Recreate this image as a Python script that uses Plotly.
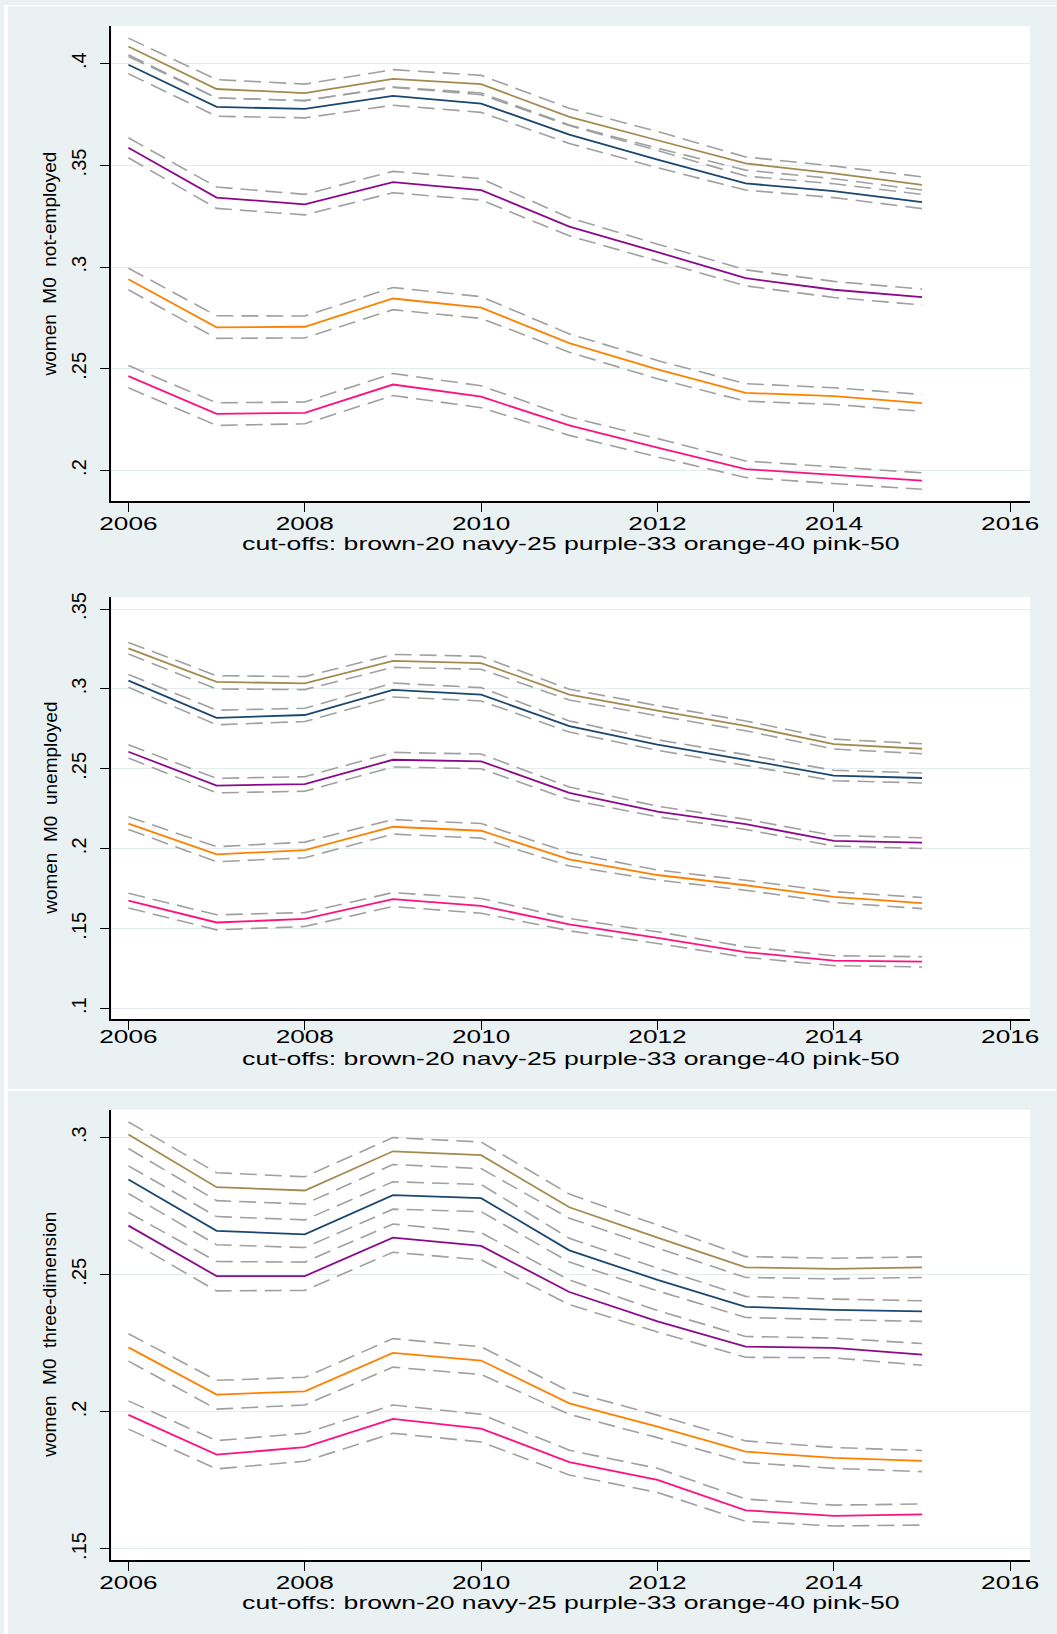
import plotly.graph_objects as go

W, H = 1057, 1634

years = [2006, 2007, 2008, 2009, 2010, 2011, 2012, 2013, 2014, 2015]
x_ticks = [2006, 2008, 2010, 2012, 2014, 2016]
x_title = "cut-offs: brown-20 navy-25 purple-33 orange-40 pink-50"

# ---------------- panel 1: not-employed ----------------
ne_title = "women  M0  not-employed"
ne_ticks = [0.2, 0.25, 0.3, 0.35, 0.4]
ne_ticktext = [".2", ".25", ".3", ".35", ".4"]
ne_brown = [0.4085, 0.3876, 0.3856, 0.3926, 0.3900, 0.3739, 0.3624, 0.3510, 0.3461, 0.3405]
ne_brown_hi = [0.4126, 0.3922, 0.3900, 0.3971, 0.3943, 0.3781, 0.3667, 0.3542, 0.3497, 0.3444]
ne_brown_lo = [0.4036, 0.3832, 0.3819, 0.3886, 0.3856, 0.3699, 0.3585, 0.3477, 0.3435, 0.3379]
ne_navy = [0.3995, 0.3788, 0.3778, 0.3842, 0.3804, 0.3652, 0.3529, 0.3412, 0.3374, 0.3320]
ne_navy_hi = [0.4044, 0.3832, 0.3819, 0.3884, 0.3848, 0.3696, 0.3574, 0.3448, 0.3410, 0.3358]
ne_navy_lo = [0.3951, 0.3742, 0.3734, 0.3796, 0.3761, 0.3608, 0.3489, 0.3379, 0.3342, 0.3288]
ne_purple = [0.3587, 0.3342, 0.3309, 0.3418, 0.3379, 0.3199, 0.3074, 0.2946, 0.2889, 0.2853]
ne_purple_hi = [0.3636, 0.3394, 0.3358, 0.3471, 0.3435, 0.3243, 0.3113, 0.2987, 0.2930, 0.2892]
ne_purple_lo = [0.3538, 0.3289, 0.3257, 0.3366, 0.3330, 0.3154, 0.3031, 0.2908, 0.2851, 0.2814]
ne_orange = [0.2941, 0.2704, 0.2707, 0.2846, 0.2801, 0.2627, 0.2497, 0.2382, 0.2366, 0.2332]
ne_orange_hi = [0.2995, 0.2761, 0.2760, 0.2900, 0.2855, 0.2672, 0.2541, 0.2427, 0.2407, 0.2374]
ne_orange_lo = [0.2889, 0.2650, 0.2652, 0.2791, 0.2748, 0.2582, 0.2451, 0.2341, 0.2325, 0.2291]
ne_pink = [0.2464, 0.2279, 0.2284, 0.2423, 0.2363, 0.2222, 0.2113, 0.2007, 0.1979, 0.1951]
ne_pink_hi = [0.2516, 0.2333, 0.2337, 0.2477, 0.2417, 0.2263, 0.2157, 0.2047, 0.2018, 0.1989]
ne_pink_lo = [0.2407, 0.2222, 0.2230, 0.2369, 0.2309, 0.2173, 0.2067, 0.1966, 0.1936, 0.1908]

# ---------------- panel 2: unemployed ----------------
un_title = "women  M0  unemployed"
un_ticks = [0.1, 0.15, 0.2, 0.25, 0.3, 0.35]
un_ticktext = [".1", ".15", ".2", ".25", ".3", ".35"]
un_brown = [0.3254, 0.3044, 0.3035, 0.3175, 0.3162, 0.2965, 0.2865, 0.2769, 0.2655, 0.2626]
un_brown_hi = [0.3291, 0.3083, 0.3077, 0.3216, 0.3204, 0.2998, 0.2896, 0.2800, 0.2686, 0.2657]
un_brown_lo = [0.3218, 0.3000, 0.2996, 0.3135, 0.3123, 0.2931, 0.2832, 0.2738, 0.2624, 0.2595]
un_navy = [0.3052, 0.2819, 0.2837, 0.2994, 0.2965, 0.2767, 0.2651, 0.2557, 0.2458, 0.2443]
un_navy_hi = [0.3091, 0.2867, 0.2879, 0.3037, 0.3008, 0.2800, 0.2682, 0.2589, 0.2491, 0.2474]
un_navy_lo = [0.3010, 0.2776, 0.2796, 0.2950, 0.2925, 0.2730, 0.2616, 0.2520, 0.2426, 0.2412]
un_purple = [0.2607, 0.2395, 0.2405, 0.2557, 0.2547, 0.2350, 0.2233, 0.2154, 0.2050, 0.2038]
un_purple_hi = [0.2651, 0.2441, 0.2451, 0.2603, 0.2593, 0.2387, 0.2266, 0.2185, 0.2083, 0.2069]
un_purple_lo = [0.2568, 0.2350, 0.2360, 0.2512, 0.2501, 0.2308, 0.2200, 0.2121, 0.2017, 0.2002]
un_orange = [0.2158, 0.1965, 0.1992, 0.2138, 0.2113, 0.1934, 0.1836, 0.1772, 0.1699, 0.1660]
un_orange_hi = [0.2200, 0.2013, 0.2042, 0.2183, 0.2158, 0.1976, 0.1867, 0.1803, 0.1732, 0.1695]
un_orange_lo = [0.2121, 0.1919, 0.1944, 0.2092, 0.2067, 0.1892, 0.1805, 0.1741, 0.1664, 0.1626]
un_pink = [0.1676, 0.1539, 0.1561, 0.1685, 0.1643, 0.1527, 0.1443, 0.1354, 0.1300, 0.1294]
un_pink_hi = [0.1722, 0.1587, 0.1601, 0.1726, 0.1689, 0.1564, 0.1481, 0.1387, 0.1331, 0.1325]
un_pink_lo = [0.1630, 0.1493, 0.1514, 0.1639, 0.1597, 0.1487, 0.1408, 0.1321, 0.1269, 0.1261]

# ---------------- panel 3: three-dimension ----------------
td_title = "women  M0  three-dimension"
td_ticks = [0.15, 0.2, 0.25, 0.3]
td_ticktext = [".15", ".2", ".25", ".3"]
td_brown = [0.3011, 0.2819, 0.2807, 0.2950, 0.2936, 0.2746, 0.2635, 0.2527, 0.2521, 0.2527]
td_brown_hi = [0.3057, 0.2872, 0.2857, 0.3000, 0.2984, 0.2794, 0.2681, 0.2566, 0.2560, 0.2565]
td_brown_lo = [0.2960, 0.2770, 0.2758, 0.2902, 0.2887, 0.2706, 0.2597, 0.2490, 0.2485, 0.2490]
td_navy = [0.2847, 0.2660, 0.2647, 0.2790, 0.2779, 0.2589, 0.2481, 0.2383, 0.2372, 0.2366]
td_navy_hi = [0.2897, 0.2712, 0.2700, 0.2839, 0.2829, 0.2633, 0.2524, 0.2421, 0.2411, 0.2405]
td_navy_lo = [0.2796, 0.2609, 0.2599, 0.2739, 0.2730, 0.2546, 0.2441, 0.2344, 0.2336, 0.2330]
td_purple = [0.2679, 0.2495, 0.2495, 0.2635, 0.2605, 0.2437, 0.2330, 0.2238, 0.2233, 0.2209]
td_purple_hi = [0.2727, 0.2548, 0.2546, 0.2685, 0.2653, 0.2481, 0.2369, 0.2275, 0.2269, 0.2249]
td_purple_lo = [0.2627, 0.2441, 0.2443, 0.2582, 0.2554, 0.2391, 0.2291, 0.2199, 0.2197, 0.2170]
td_orange = [0.2235, 0.2063, 0.2075, 0.2215, 0.2187, 0.2031, 0.1946, 0.1855, 0.1832, 0.1821]
td_orange_hi = [0.2285, 0.2115, 0.2126, 0.2267, 0.2237, 0.2075, 0.1988, 0.1894, 0.1870, 0.1859]
td_orange_lo = [0.2185, 0.2010, 0.2025, 0.2163, 0.2136, 0.1991, 0.1906, 0.1815, 0.1794, 0.1782]
td_pink = [0.1989, 0.1844, 0.1871, 0.1974, 0.1939, 0.1817, 0.1752, 0.1641, 0.1621, 0.1626]
td_pink_hi = [0.2040, 0.1895, 0.1922, 0.2025, 0.1991, 0.1860, 0.1794, 0.1682, 0.1660, 0.1664]
td_pink_lo = [0.1937, 0.1792, 0.1820, 0.1922, 0.1890, 0.1770, 0.1706, 0.1601, 0.1584, 0.1587]

# ---------------- styling ----------------
COL = {"brown": "#A38A4E", "navy": "#1A476F", "purple": "#8B0A8B",
       "orange": "#FF8000", "pink": "#FF1080"}
CI_COLOR = "#A0A0A0"
BG = "#EAF1F3"
GRID = "#E4ECEE"
FONT = "Liberation Sans"

panels = [
    dict(title=ne_title, ticks=ne_ticks, ticktext=ne_ticktext, yr=[0.1848, 0.4186],
         top=21, bot=498, xlab=540, xstand=-5,
         series=[("brown", ne_brown, ne_brown_lo, ne_brown_hi), ("navy", ne_navy, ne_navy_lo, ne_navy_hi),
                 ("purple", ne_purple, ne_purple_lo, ne_purple_hi), ("orange", ne_orange, ne_orange_lo, ne_orange_hi),
                 ("pink", ne_pink, ne_pink_lo, ne_pink_hi)]),
    dict(title=un_title, ticks=un_ticks, ticktext=un_ticktext, yr=[0.0936, 0.3574],
         top=594, bot=1017, xlab=1057, xstand=-9,
         series=[("brown", un_brown, un_brown_lo, un_brown_hi), ("navy", un_navy, un_navy_lo, un_navy_hi),
                 ("purple", un_purple, un_purple_lo, un_purple_hi), ("orange", un_orange, un_orange_lo, un_orange_hi),
                 ("pink", un_pink, un_pink_lo, un_pink_hi)]),
    dict(title=td_title, ticks=td_ticks, ticktext=td_ticktext, yr=[0.1459, 0.3102],
         top=1108, bot=1560, xlab=1602, xstand=-5,
         series=[("brown", td_brown, td_brown_lo, td_brown_hi), ("navy", td_navy, td_navy_lo, td_navy_hi),
                 ("purple", td_purple, td_purple_lo, td_purple_hi), ("orange", td_orange, td_orange_lo, td_orange_hi),
                 ("pink", td_pink, td_pink_lo, td_pink_hi)]),
]

PL, PR = 108, 1031


def px_x(p):
    return p / W


def px_y(p):
    return 1 - p / H


fig = go.Figure()
annotations = []
layout = {}

for i, p in enumerate(panels, start=1):
    xa = "x" if i == 1 else f"x{i}"
    ya = "y" if i == 1 else f"y{i}"
    for name, mid, lo, hi in p["series"]:
        for bound in (hi, lo):
            fig.add_trace(go.Scatter(x=years, y=bound, mode="lines", xaxis=xa, yaxis=ya,
                                     line=dict(color=CI_COLOR, width=1.6, dash="17px,8px"),
                                     showlegend=False, hoverinfo="skip"))
    for name, mid, lo, hi in p["series"]:
        fig.add_trace(go.Scatter(x=years, y=mid, mode="lines", xaxis=xa, yaxis=ya,
                                 line=dict(color=COL[name], width=1.8),
                                 showlegend=False, name=name))

    xkey = "xaxis" if i == 1 else f"xaxis{i}"
    ykey = "yaxis" if i == 1 else f"yaxis{i}"
    layout[xkey] = dict(domain=[px_x(PL), px_x(PR)], anchor=ya, range=[2005.808, 2016.226],
                        tickvals=x_ticks, ticktext=[str(t) for t in x_ticks],
                        ticks="outside", ticklen=9, tickwidth=1.2, tickcolor="#000000",
                        ticklabelstandoff=p["xstand"],
                        showline=True, linecolor="#000000", linewidth=1.5,
                        showgrid=False, zeroline=False,
                        tickfont=dict(family=FONT, size=19, color="#000000"))
    layout[ykey] = dict(domain=[px_y(p["bot"]), px_y(p["top"])], anchor=xa, range=p["yr"],
                        tickvals=p["ticks"], ticktext=p["ticktext"], tickangle=-90,
                        ticks="outside", ticklen=10, tickwidth=1.2, tickcolor="#000000",
                        ticklabelstandoff=6,
                        showline=True, linecolor="#000000", linewidth=1.8,
                        showgrid=True, gridcolor=GRID, gridwidth=1, zeroline=False,
                        tickfont=dict(family=FONT, size=20, color="#000000"))
    annotations.append(dict(text=p["title"], xref="paper", yref="paper", x=px_x(46),
                            y=px_y((p["top"] + p["bot"]) / 2), textangle=-90, showarrow=False,
                            xanchor="center", yanchor="middle",
                            font=dict(family=FONT, size=19, color="#000000")))
    annotations.append(dict(text=x_title, xref="paper", yref="paper", x=px_x((PL + PR) / 2),
                            y=px_y(p["xlab"]), showarrow=False, xanchor="center", yanchor="middle",
                            font=dict(family=FONT, size=19, color="#000000")))

# white page edges / separator (the panels themselves are the light paper colour)
shapes = [
    dict(type="rect", xref="paper", yref="paper", x0=0, x1=px_x(4), y0=0, y1=1,
         fillcolor="#FFFFFF", line=dict(width=0), layer="below"),
    dict(type="rect", xref="paper", yref="paper", x0=0, x1=1, y0=px_y(1.5), y1=1,
         fillcolor="#FFFFFF", line=dict(width=0), layer="below"),
    dict(type="rect", xref="paper", yref="paper", x0=0, x1=1, y0=px_y(1089), y1=px_y(1087),
         fillcolor="#FFFFFF", line=dict(width=0), layer="below"),
]

fig.update_layout(width=W, height=H, margin=dict(l=0, r=0, t=0, b=0),
                  paper_bgcolor=BG, plot_bgcolor="#FFFFFF",
                  shapes=shapes, annotations=annotations, showlegend=False, **layout)

# Stata export is horizontally stretched: widen horizontal texts (still real text)
post = """
document.body.style.margin='0px';
function widen(el, sx){
  try {
    var w = el.getComputedTextLength();
    if (w > 0) { el.setAttribute('lengthAdjust','spacingAndGlyphs'); el.setAttribute('textLength', (w*sx).toFixed(1)); }
  } catch(e) {}
}
document.querySelectorAll('g.xtick text, g.x2tick text, g.x3tick text').forEach(function(el){ widen(el, 1.38); });
document.querySelectorAll('g.annotation text.annotation-text').forEach(function(el){
  if ((el.textContent||'').indexOf('cut-offs') === 0) { widen(el, 1.40); }
});
"""

fig.write_html("out.html", post_script=post, config={"displayModeBar": False})
